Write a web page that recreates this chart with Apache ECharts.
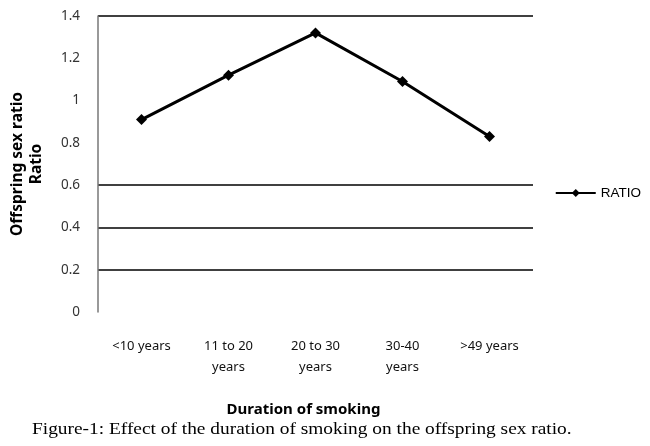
<!DOCTYPE html>
<html>
<head>
	<meta charset="utf-8">
	<title></title>
	<script src="https://cdn.jsdelivr.net/npm/echarts@6/dist/echarts.min.js"></script>
</head>
<body style="margin:0">
	<div id="chart" style="width: 650px; height: 446px;"></div>
	<script>
		// data
		var categories = ["<10 years", "11 to 20\nyears", "20 to 30\nyears", "30-40\nyears", ">49 years"]
		var ratio = [0.91, 1.12, 1.32, 1.09, 0.83]
		var seriesName = "RATIO"
		var caption = "Figure-1: Effect of the duration of smoking on the offspring sex ratio."
		// only some grid lines are drawn in the original (0 .. 1.4)
		var gridColors = ["transparent", "#000", "#000", "#000", "transparent", "transparent", "transparent", "#000"]

		var mCharts = echarts.init(document.getElementById("chart"))

		var opt = {
			backgroundColor: "#fff",
			animation: false,
			graphic: [
				{
					// caption under the figure, a bit stretched like the scan
					type: "text",
					left: 32,
					top: 421,
					scaleX: 1.14,
					style: {
						text: caption,
						fontFamily: "Liberation Serif",
						fontSize: 17,
						fill: "#000"
					}
				}
			],
			grid: {
				left: 98,
				right: 117,
				top: 16,
				bottom: 134,
				containLabel: false
			},
			legend: {
				orient: "vertical",
				right: 4,
				top: 181,
				itemWidth: 40,
				itemHeight: 10,
				itemGap: 4,
				textStyle: {
					fontFamily: "Liberation Sans",
					fontSize: 13.5,
					color: "#000"
				},
				data: [seriesName]
			},
			xAxis: {
				type: "category",
				data: categories,
				name: "Duration of smoking",
				nameLocation: "middle",
				nameGap: 90,
				nameTextStyle: {
					fontFamily: "Noto Sans",
					fontSize: 15,
					fontWeight: "bold",
					color: "#000",
					padding: [0, 24, 0, 0]
				},
				axisLine: { show: false },
				axisTick: { show: false },
				axisLabel: {
					margin: 24,
					fontFamily: "Noto Sans",
					fontSize: 13,
					lineHeight: 21,
					color: "#111",
					interval: 0
				}
			},
			yAxis: {
				type: "value",
				min: 0,
				max: 1.4,
				interval: 0.2,
				name: "Offspring sex ratio\nRatio",
				nameLocation: "middle",
				nameRotate: 90,
				nameGap: 52,
				nameTextStyle: {
					fontFamily: "Noto Sans",
					fontSize: 15.5,
					fontWeight: "bold",
					lineHeight: 19,
					color: "#000"
				},
				axisLine: {
					show: true,
					lineStyle: { color: "#777", width: 1.5 }
				},
				axisTick: { show: false },
				axisLabel: {
					margin: 18,
					fontFamily: "Noto Sans",
					fontSize: 13.5,
					color: "#333",
					formatter: function (v) { return String(Math.round(v * 10) / 10) }
				},
				splitLine: {
					show: true,
					lineStyle: { color: gridColors, width: 1.5 }
				}
			},
			series: [
				{
					name: seriesName,
					type: "line",
					data: ratio,
					symbol: "diamond",
					symbolSize: 11,
					lineStyle: { color: "#000", width: 3 },
					itemStyle: { color: "#000" }
				}
			]
		}

		mCharts.setOption(opt)
	</script>
</body>
</html>
